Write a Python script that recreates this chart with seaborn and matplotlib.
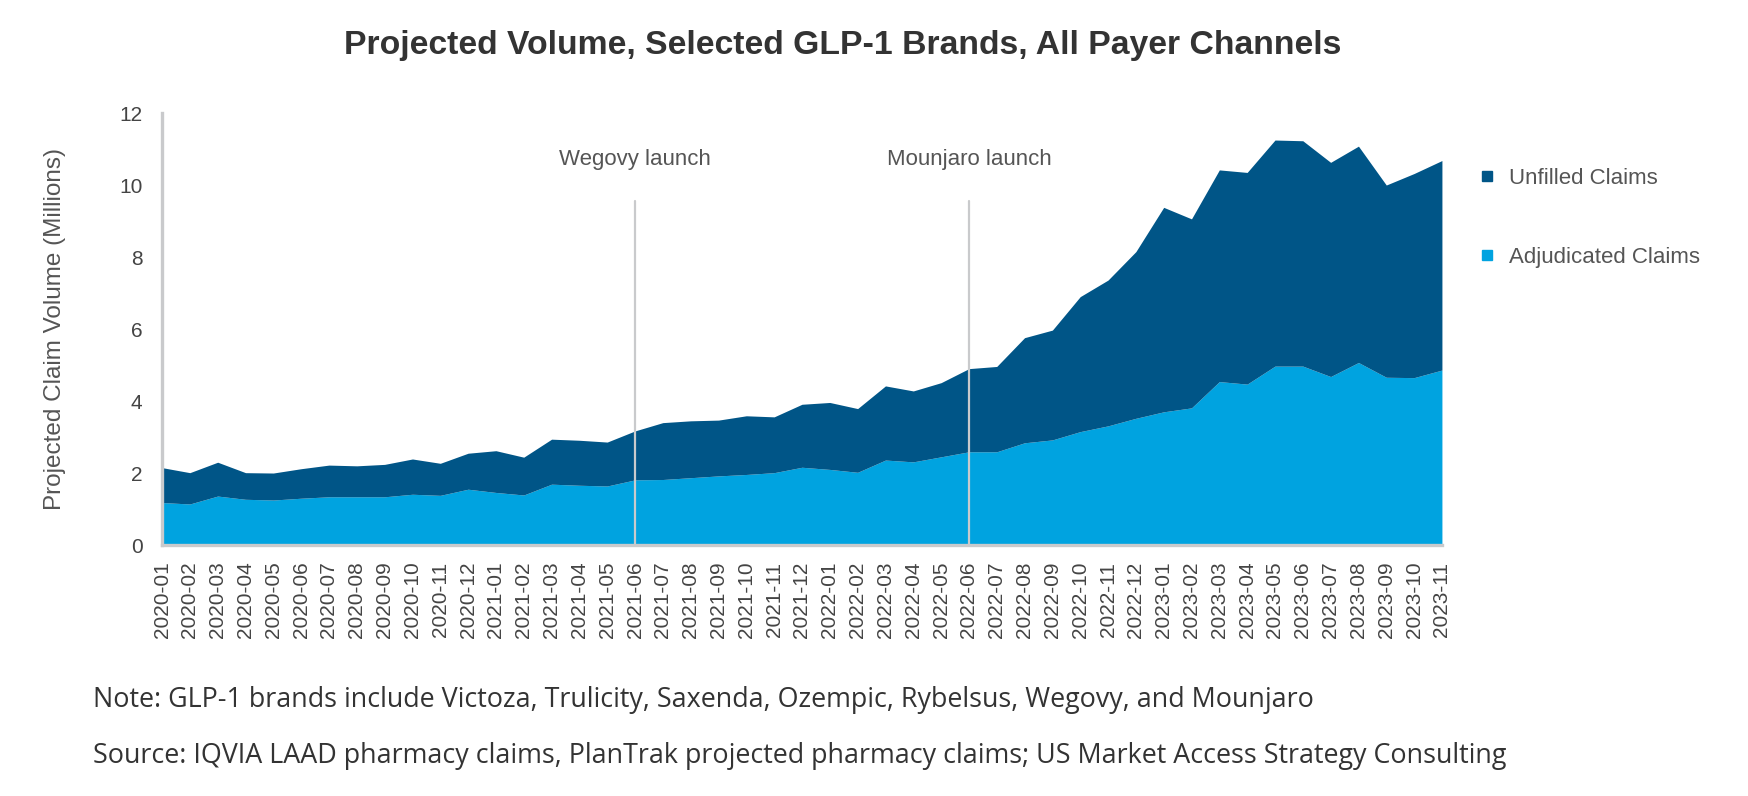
import numpy as np
import pandas as pd
import seaborn as sns
import matplotlib.pyplot as plt
from matplotlib.lines import Line2D

# monthly values (millions of claims)
months = [f"{y}-{m:02d}" for y in range(2020, 2024) for m in range(1, 13)][:47]

adjudicated = [1.18, 1.14, 1.36, 1.27, 1.25, 1.30, 1.34, 1.34, 1.34, 1.41, 1.38, 1.55,
               1.46, 1.39, 1.69, 1.66, 1.64, 1.81, 1.82, 1.87, 1.92, 1.96, 2.01, 2.16,
               2.10, 2.02, 2.36, 2.31, 2.45, 2.59, 2.59, 2.84, 2.92, 3.15, 3.31, 3.52,
               3.70, 3.81, 4.54, 4.47, 4.97, 4.97, 4.68, 5.07, 4.66, 4.65, 4.86]

unfilled = [0.97, 0.87, 0.94, 0.74, 0.75, 0.82, 0.88, 0.86, 0.90, 0.98, 0.89, 1.00,
            1.16, 1.05, 1.25, 1.25, 1.22, 1.36, 1.58, 1.58, 1.55, 1.63, 1.55, 1.75,
            1.86, 1.77, 2.06, 1.97, 2.06, 2.31, 2.37, 2.92, 3.05, 3.75, 4.05, 4.63,
            5.68, 5.25, 5.88, 5.88, 6.28, 6.26, 5.95, 6.01, 5.34, 5.67, 5.82]

events = ["Wegovy launch", "Mounjaro launch"]
event_months = ["2021-06", "2022-06"]

df = pd.DataFrame({"Month": months, "Adjudicated Claims": adjudicated,
                   "Unfilled Claims": unfilled})

DARK = "#005587"
LIGHT = "#00A3E0"
GRAY = "#c9cacc"
TEXT = "#555555"

sns.set_theme(style="white")
plt.rcParams['font.family'] = ['Liberation Sans', 'DejaVu Sans']

fig = plt.figure(figsize=(17.48, 7.96), dpi=100)
ax = fig.add_axes([0.0927, 0.3153, 0.7322, 0.5427])

x = np.arange(len(df))
ax.stackplot(x, df["Adjudicated Claims"], df["Unfilled Claims"],
             colors=[LIGHT, DARK], linewidth=0)

# launch markers
for name, m in zip(events, event_months):
    i = months.index(m)
    ax.plot([i, i], [0, 9.55], color=GRAY, lw=1.6, zorder=3)
    ax.text(i, 10.72, name, ha='center', va='center', fontsize=16, color=TEXT)

ax.set_xlim(0, len(df) - 1)
ax.set_ylim(0, 12)
ax.set_yticks(range(0, 13, 2))
ax.set_xticks(x)
ax.set_xticklabels(df["Month"], rotation=90)
ax.tick_params(axis='x', labelsize=15, colors='#444444', pad=12, length=0)
ax.tick_params(axis='y', labelsize=15, colors='#444444', pad=14, length=0)

sns.despine(ax=ax, top=True, right=True)
for side in ['left', 'bottom']:
    ax.spines[side].set_color(GRAY)
    ax.spines[side].set_linewidth(2.4)
ax.grid(False)

ax.set_ylabel("Projected Claim Volume (Millions)", fontsize=17.5, color=TEXT)
ax.yaxis.set_label_coords(-0.075, 0.5)

handles = [Line2D([], [], marker='s', ls='', color=DARK, markersize=7),
           Line2D([], [], marker='s', ls='', color=LIGHT, markersize=7)]
fig.legend(handles, ["Unfilled Claims", "Adjudicated Claims"],
           loc='upper left', bbox_to_anchor=(0.834, 0.814), frameon=False,
           fontsize=16, labelcolor=TEXT, labelspacing=2.6,
           handlelength=0.8, handletextpad=0.6)

fig.text(0.482, 0.943, "Projected Volume, Selected GLP-1 Brands, All Payer Channels",
         ha='center', va='center', fontsize=24.3, fontweight='bold', color='#333333')

fig.text(0.0532, 0.1206,
         "Note: GLP-1 brands include Victoza, Trulicity, Saxenda, Ozempic, Rybelsus, Wegovy, and Mounjaro",
         ha='left', va='center', fontsize=19.4, color='#333333', family=['Open Sans', 'DejaVu Sans'])
fig.text(0.0532, 0.0503,
         "Source: IQVIA LAAD pharmacy claims, PlanTrak projected pharmacy claims; US Market Access Strategy Consulting",
         ha='left', va='center', fontsize=19.4, color='#333333', family=['Open Sans', 'DejaVu Sans'])

fig.savefig("out.png", dpi=100)
